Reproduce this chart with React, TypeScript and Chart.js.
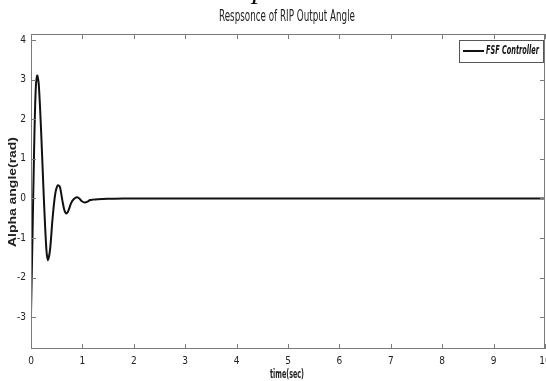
import React, { useEffect, useRef } from "react";
import { Chart, registerables } from "chart.js";

Chart.register(...registerables);

const timeSec = [0, 0.03, 0.06, 0.09, 0.12, 0.15, 0.2, 0.25, 0.3, 0.33, 0.37, 0.42, 0.47, 0.52, 0.56, 0.61, 0.65, 0.69, 0.73, 0.78, 0.83, 0.89, 0.94, 0.99, 1.05, 1.1, 1.15, 1.2, 1.3, 1.5, 1.8, 2.2, 3, 10];
const alphaRad = [-2.9, -0.9, 1.2, 2.7, 3.1, 2.9, 1.6, 0.0, -1.3, -1.56, -1.3, -0.5, 0.1, 0.33, 0.3, -0.05, -0.3, -0.38, -0.3, -0.12, -0.02, 0.03, 0.0, -0.07, -0.1, -0.08, -0.04, -0.03, -0.02, -0.01, 0.0, 0.0, 0.0, 0.0];
const xTicks = [0, 1, 2, 3, 4, 5, 6, 7, 8, 9, 10];
const yTicks = [-3, -2, -1, 0, 1, 2, 3, 4];
const titleText = "Respsonce of RIP Output Angle";
const xTitle = "time(sec)";
const yTitle = "Alpha angle(rad)";
const legendLabel = "FSF Controller";

const NARROW = '"Liberation Sans Narrow", "DejaVu Sans Condensed", "Liberation Sans", sans-serif';
const AXIS = "#7a7a7a";

function fitText(ctx: CanvasRenderingContext2D, text: string, x: number, y: number, width: number, align: "left" | "center") {
  const w = ctx.measureText(text).width;
  const s = width / w;
  ctx.save();
  ctx.translate(x, y);
  ctx.scale(s, 1);
  ctx.textAlign = align;
  ctx.fillText(text, 0, 0);
  ctx.restore();
}

const framePlugin = {
  id: "frame",
  afterDraw(chart: any) {
    const ctx = chart.ctx;
    const { left, right, top, bottom } = chart.chartArea;
    const xs = chart.scales.x;
    const ys = chart.scales.y;
    ctx.save();
    ctx.strokeStyle = AXIS;
    ctx.lineWidth = 1;
    ctx.strokeRect(left + 0.5, top + 0.5, right - left - 1, bottom - top - 1);
    const tl = 5;
    ctx.beginPath();
    xs.ticks.forEach((t: any) => {
      const px = Math.round(xs.getPixelForValue(t.value)) + 0.5;
      ctx.moveTo(px, bottom);
      ctx.lineTo(px, bottom - tl);
      ctx.moveTo(px, top);
      ctx.lineTo(px, top + tl);
    });
    ys.ticks.forEach((t: any) => {
      const py = Math.round(ys.getPixelForValue(t.value)) + 0.5;
      ctx.moveTo(left, py);
      ctx.lineTo(left + tl, py);
      ctx.moveTo(right, py);
      ctx.lineTo(right - tl, py);
    });
    ctx.stroke();

    // stray glyph fragment at top of the page crop
    ctx.fillStyle = "#111";
    ctx.textBaseline = "alphabetic";
    ctx.textAlign = "center";
    ctx.font = `italic 30px "Liberation Serif", serif`;
    ctx.fillText("p", 260, -2);

    ctx.fillStyle = "#222";
    ctx.textBaseline = "middle";
    ctx.font = `15px ${NARROW}`;
    fitText(ctx, titleText, 287, 17, 136, "center");

    ctx.font = `bold 13px ${NARROW}`;
    fitText(ctx, xTitle, 287, 375, 34, "center");

    ctx.save();
    ctx.translate(13, 192);
    ctx.rotate(-Math.PI / 2);
    ctx.font = `bold 11px "Liberation Sans", Arial, sans-serif`;
    fitText(ctx, yTitle, 0, 0, 110, "center");
    ctx.restore();

    const lx = 459, ly = 40, lw = 84, lh = 22;
    ctx.fillStyle = "#fff";
    ctx.fillRect(lx, ly, lw, lh);
    ctx.strokeStyle = "#555";
    ctx.lineWidth = 1;
    ctx.strokeRect(lx + 0.5, ly + 0.5, lw, lh);
    ctx.strokeStyle = "#111";
    ctx.lineWidth = 2;
    ctx.beginPath();
    ctx.moveTo(463, ly + 11);
    ctx.lineTo(484, ly + 11);
    ctx.stroke();
    ctx.fillStyle = "#111";
    ctx.font = `italic bold 12px ${NARROW}`;
    fitText(ctx, legendLabel, 486, ly + 11, 53, "left");
    ctx.restore();
  },
};

export default function App() {
  const ref = useRef<HTMLCanvasElement>(null);
  useEffect(() => {
    document.body.style.margin = "0";
    const chart = new Chart(ref.current!, {
      type: "line",
      data: {
        datasets: [
          {
            label: legendLabel,
            data: timeSec.map((t, i) => ({ x: t, y: alphaRad[i] })),
            borderColor: "#111",
            borderWidth: 2,
            pointRadius: 0,
            tension: 0.3,
            fill: false,
          },
        ],
      },
      options: {
        animation: false,
        responsive: false,
        maintainAspectRatio: false,
        layout: { padding: { left: 0, right: 1, top: 34, bottom: 0 } },
        plugins: { legend: { display: false }, title: { display: false }, tooltip: { enabled: false } },
        scales: {
          x: {
            type: "linear",
            min: 0,
            max: 10,
            afterBuildTicks: (s: any) => { s.ticks = xTicks.map((v) => ({ value: v })); },
            afterFit: (s: any) => { s.height = 32; s.paddingLeft = 0; s.paddingRight = 0; },
            grid: { display: false, drawTicks: false },
            border: { display: false },
            ticks: { color: "#222", font: { family: NARROW, size: 10 }, padding: 6, maxRotation: 0, autoSkip: false },
          },
          y: {
            type: "linear",
            min: -3.8,
            max: 4.15,
            afterBuildTicks: (s: any) => { s.ticks = yTicks.map((v) => ({ value: v })); },
            afterFit: (s: any) => { s.width = 31; s.paddingTop = 0; s.paddingBottom = 0; },
            grid: { display: false, drawTicks: false },
            border: { display: false },
            ticks: { color: "#222", font: { family: NARROW, size: 10 }, padding: 5, autoSkip: false },
          },
        },
      },
      plugins: [framePlugin],
    });
    return () => chart.destroy();
  }, []);
  return (
    <div style={{ position: "absolute", left: 0, top: 0, width: 546, height: 381, background: "#fff" }}>
      <canvas ref={ref} width={546} height={381} style={{ display: "block" }} />
    </div>
  );
}
